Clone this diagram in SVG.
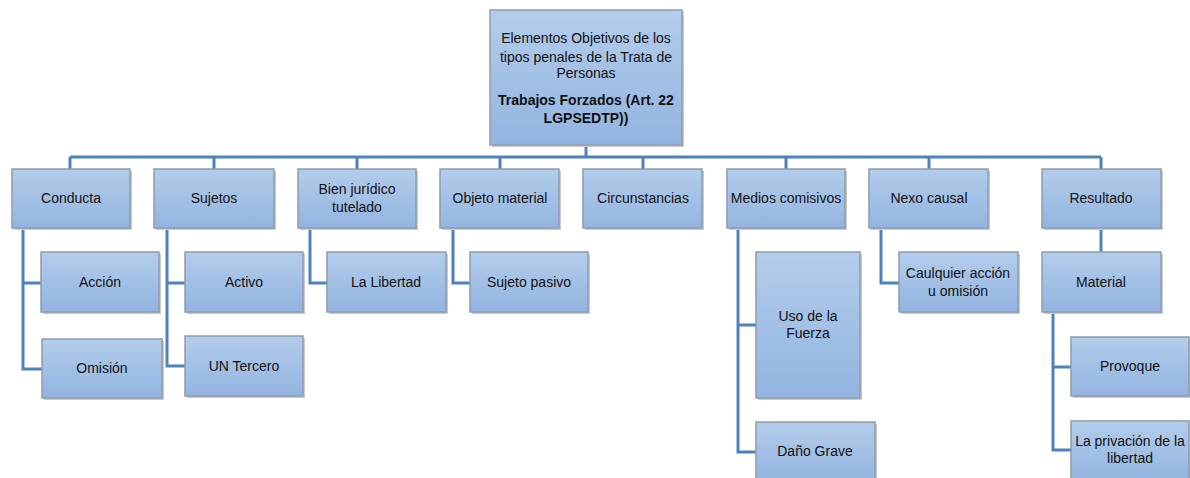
<svg xmlns="http://www.w3.org/2000/svg" width="1190" height="478" viewBox="0 0 1190 478">
<defs>
<linearGradient id="g" x1="0" y1="0" x2="0" y2="1">
<stop offset="0" stop-color="#b3cdeb"/>
<stop offset="1" stop-color="#93b4e0"/>
</linearGradient>
</defs>
<style>
.b{fill:url(#g);stroke:#8e9cad;stroke-width:1.5}
.s{fill:#c9c9c9}
.t{font-family:"Liberation Sans",Arial,sans-serif;font-size:14px;fill:#111111;text-anchor:middle}
.bd{font-weight:bold}
.c{fill:none;stroke:#4e82bc;stroke-width:3}
</style>
<rect width="1190" height="478" fill="#ffffff"/>
<g id="connectors">
<path class="c" d="M586 145V157M70 157H1101M70 157V169M214 157V169M357 157V169M500 157V169M643 157V169M786 157V169M929 157V169M1101 157V169"/>
<path class="c" d="M23 228V369H42M23 283H41"/>
<path class="c" d="M167 228V366H185M167 283H185"/>
<path class="c" d="M310 228V283H327"/>
<path class="c" d="M453 228V283H470"/>
<path class="c" d="M738 228V452H756M738 325H756"/>
<path class="c" d="M881 228V283H899"/>
<path class="c" d="M1101 228V252"/>
<path class="c" d="M1053 312V450H1071M1053 367H1071"/>
</g>
<g id="root"><rect class="s" x="492" y="12" width="192" height="135"/><rect class="b" x="490" y="10" width="192" height="135"/>
<text class="t" x="586" y="43">Elementos Objetivos de los</text>
<text class="t" x="586" y="62">tipos penales de la Trata de</text>
<text class="t" x="586" y="78">Personas</text>
<text class="t bd" x="586" y="105">Trabajos Forzados (Art. 22</text>
<text class="t bd" x="586" y="123">LGPSEDTP))</text></g>
<g id="conducta"><rect class="s" x="14" y="171" width="118" height="59"/><rect class="b" x="12" y="169" width="118" height="59"/><text class="t" x="71" y="203">Conducta</text></g>
<g id="accion"><rect class="s" x="43" y="254" width="118" height="60"/><rect class="b" x="41" y="252" width="118" height="60"/><text class="t" x="100" y="287">Acción</text></g>
<g id="omision"><rect class="s" x="44" y="341" width="120" height="59"/><rect class="b" x="42" y="339" width="120" height="59"/><text class="t" x="102" y="373">Omisión</text></g>
<g id="sujetos"><rect class="s" x="156" y="171" width="120" height="59"/><rect class="b" x="154" y="169" width="120" height="59"/><text class="t" x="214" y="203">Sujetos</text></g>
<g id="activo"><rect class="s" x="187" y="254" width="118" height="60"/><rect class="b" x="185" y="252" width="118" height="60"/><text class="t" x="244" y="287">Activo</text></g>
<g id="tercero"><rect class="s" x="187" y="338" width="118" height="60"/><rect class="b" x="185" y="336" width="118" height="60"/><text class="t" x="244" y="371">UN Tercero</text></g>
<g id="bien"><rect class="s" x="300" y="171" width="118" height="59"/><rect class="b" x="298" y="169" width="118" height="59"/><text class="t" x="357" y="194">Bien jurídico</text><text class="t" x="357" y="212">tutelado</text></g>
<g id="libertad"><rect class="s" x="329" y="254" width="119" height="60"/><rect class="b" x="327" y="252" width="119" height="60"/><text class="t" x="386" y="287">La Libertad</text></g>
<g id="objeto"><rect class="s" x="442" y="171" width="119" height="59"/><rect class="b" x="440" y="169" width="119" height="59"/><text class="t" x="500" y="203">Objeto material</text></g>
<g id="pasivo"><rect class="s" x="472" y="254" width="118" height="60"/><rect class="b" x="470" y="252" width="118" height="60"/><text class="t" x="529" y="287">Sujeto pasivo</text></g>
<g id="circ"><rect class="s" x="585" y="171" width="119" height="59"/><rect class="b" x="583" y="169" width="119" height="59"/><text class="t" x="643" y="203">Circunstancias</text></g>
<g id="medios"><rect class="s" x="729" y="171" width="118" height="59"/><rect class="b" x="727" y="169" width="118" height="59"/><text class="t" x="786" y="203">Medios comisivos</text></g>
<g id="fuerza"><rect class="s" x="758" y="254" width="104" height="146"/><rect class="b" x="756" y="252" width="104" height="146"/><text class="t" x="808" y="321">Uso de la</text><text class="t" x="808" y="338">Fuerza</text></g>
<g id="dano"><rect class="s" x="758" y="424" width="119" height="60"/><rect class="b" x="756" y="422" width="119" height="60"/><text class="t" x="815" y="456">Daño Grave</text></g>
<g id="nexo"><rect class="s" x="871" y="171" width="119" height="59"/><rect class="b" x="869" y="169" width="119" height="59"/><text class="t" x="929" y="203">Nexo causal</text></g>
<g id="caulquier"><rect class="s" x="901" y="254" width="119" height="60"/><rect class="b" x="899" y="252" width="119" height="60"/><text class="t" x="958" y="278">Caulquier acción</text><text class="t" x="958" y="296">u omisión</text></g>
<g id="resultado"><rect class="s" x="1044" y="171" width="119" height="59"/><rect class="b" x="1042" y="169" width="119" height="59"/><text class="t" x="1101" y="203">Resultado</text></g>
<g id="material"><rect class="s" x="1044" y="254" width="119" height="60"/><rect class="b" x="1042" y="252" width="119" height="60"/><text class="t" x="1101" y="287">Material</text></g>
<g id="provoque"><rect class="s" x="1073" y="339" width="118" height="59"/><rect class="b" x="1071" y="337" width="118" height="59"/><text class="t" x="1130" y="371">Provoque</text></g>
<g id="privacion"><rect class="s" x="1073" y="423" width="118" height="60"/><rect class="b" x="1071" y="421" width="118" height="60"/><text class="t" x="1130" y="446">La privación de la</text><text class="t" x="1130" y="463">libertad</text></g>
</svg>
